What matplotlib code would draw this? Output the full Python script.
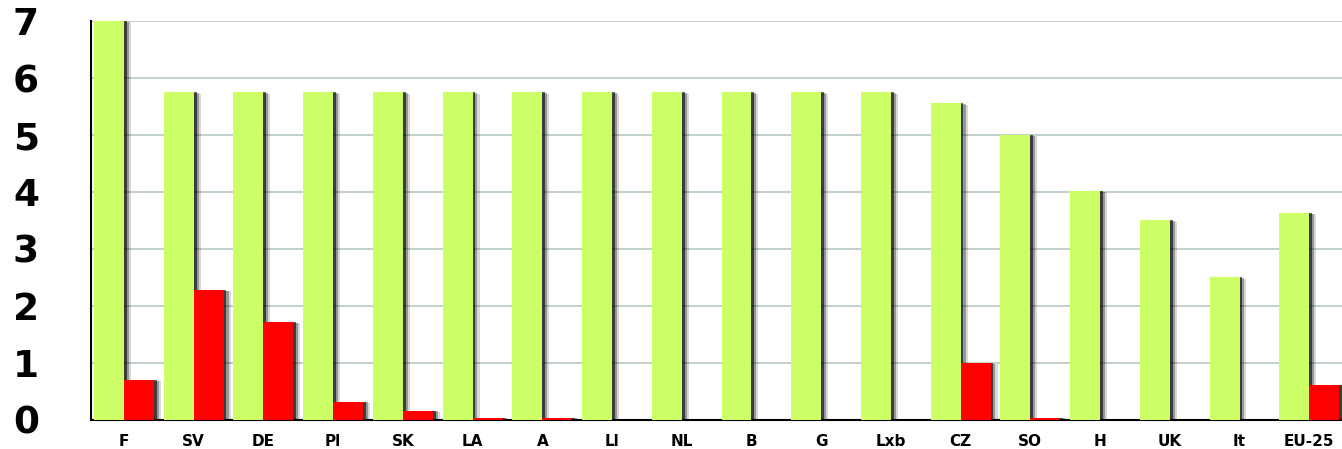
"""Diagramme en barres vertes / rouges par pays."""

import matplotlib.pyplot as plt
import matplotlib.patheffects as pe
import numpy as np

pays = ['F', 'SV', 'DE', 'Pl', 'SK', 'LA', 'A', 'Ll', 'NL', 'B', 'G',
        'Lxb', 'CZ', 'SO', 'H', 'UK', 'It', 'EU-25']
valeurs_vertes = [7.0, 5.75, 5.75, 5.75, 5.75, 5.75, 5.75, 5.75, 5.75,
                  5.75, 5.75, 5.75, 5.56, 5.0, 4.02, 3.5, 2.5, 3.63]
valeurs_rouges = [0.7, 2.28, 1.72, 0.32, 0.16, 0.04, 0.04, 0.0, 0.0,
                  0.0, 0.0, 0.0, 1.0, 0.04, 0.0, 0.0, 0.0, 0.62]
graduations = [0, 1, 2, 3, 4, 5, 6, 7]

x = np.arange(len(pays))
largeur = 0.43

fig = plt.figure(figsize=(13.42, 4.49), dpi=100)
ax = fig.add_axes([0.068, 0.065, 0.932, 0.888])

# Ombre portee a droite des barres (effet flou)
ombre = [pe.SimplePatchShadow(offset=(5, -1), shadow_rgbFace='black',
                              alpha=0.15),
         pe.SimplePatchShadow(offset=(3.5, -0.5), shadow_rgbFace='black',
                              alpha=0.3),
         pe.SimplePatchShadow(offset=(2, 0), shadow_rgbFace='black',
                              alpha=0.6),
         pe.Normal()]

vertes = ax.bar(x - largeur / 2, valeurs_vertes, largeur, color='#ccff66',
                zorder=3)
rouges = ax.bar(x + largeur / 2, valeurs_rouges, largeur, color='#ff0000',
                zorder=3)
for barre in list(vertes) + list(rouges):
    if barre.get_height() > 0:
        barre.set_path_effects(ombre)

ax.set_xlim(-0.47, 17.47)
ax.set_ylim(0, 7)
ax.set_yticks(graduations)
ax.set_yticklabels([str(g) for g in graduations], fontsize=27,
                   fontweight='bold')
for etiquette in ax.get_yticklabels():
    etiquette.set_horizontalalignment('center')
ax.set_xticks(x)
ax.set_xticklabels(pays, fontsize=11, fontweight='bold')
ax.tick_params(axis='y', length=0, pad=47)
ax.tick_params(axis='x', length=0, pad=10)

ax.grid(axis='y', color='#b7c8c4', linewidth=1.2, zorder=0)
ax.set_axisbelow(True)
for cote in ['top', 'right']:
    ax.spines[cote].set_visible(False)
ax.spines['left'].set_linewidth(1.5)
ax.spines['bottom'].set_linewidth(1.5)

plt.savefig("out.png", dpi=100)
